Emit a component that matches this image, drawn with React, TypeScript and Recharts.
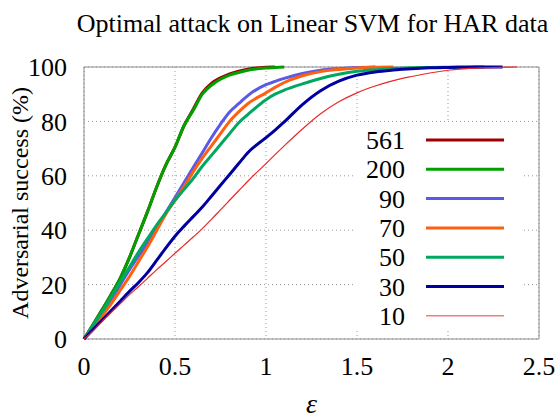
import {
  LineChart,
  Line,
  XAxis,
  YAxis,
  CartesianGrid,
  ReferenceArea,
  Label,
} from "recharts";

// epsilon grid shared by all series (null = curve already finished)
const eps = [
  0, 0.05, 0.1, 0.15, 0.2, 0.25, 0.3, 0.35, 0.4, 0.45, 0.5, 0.55, 0.6, 0.65,
  0.7, 0.75, 0.8, 0.85, 0.9, 1.0, 1.05, 1.1, 1.2, 1.3, 1.4, 1.5, 1.6, 1.7, 1.8,
  1.9, 2.0, 2.1, 2.2, 2.3, 2.38,
];

const s561 = [
  0, 5.3, 10.8, 16.5, 22.5, 30, 38.5, 47, 56, 64, 70.5, 78.5, 84.5, 90.5, 94,
  96, 97.5, 98.5, 99.2, 99.9, 100, null, null, null, null, null, null, null,
  null, null, null, null, null, null, null,
];
const s200 = [
  0, 5.3, 10.8, 16.5, 22.5, 30, 38.5, 47, 56, 64, 70.5, 78.5, 84, 90, 93.3,
  95.5, 97, 98, 98.8, 99.6, 99.8, 100, null, null, null, null, null, null, null,
  null, null, null, null, null, null,
];
const s90 = [
  0, 4.8, 9.5, 14.5, 20, 25.5, 30.5, 35.5, 41, 46.5, 52, 57.5, 63, 68.5, 74, 79,
  83.5, 86.5, 89.5, 93.5, 94.7, 95.8, 97.6, 98.8, 99.4, 99.8, 100, null, null,
  null, null, null, null, null, null,
];
const s70 = [
  0, 4, 8.5, 13, 18, 23, 28.5, 34, 40, 46, 51, 56, 61.5, 66.5, 71, 75.5, 80,
  83.5, 86.5, 90.5, 92.5, 94.3, 96.8, 98.3, 99.1, 99.6, 99.9, 100, null, null,
  null, null, null, null, null,
];
const s50 = [
  0, 5, 10, 15.5, 21, 26.5, 32, 37, 42, 46.5, 51, 55, 59, 63.5, 67.5, 71.5,
  75.5, 79.5, 82.5, 88, 90, 91.5, 93.8, 95.8, 97.3, 98.4, 99, 99.5, 99.7, 99.85,
  99.95, 99.98, 100, null, null,
];
const s30 = [
  0, 3.5, 7, 10.5, 14, 17.5, 20.8, 24.5, 29, 33.5, 37.8, 41.5, 45, 48.5, 52.5,
  56.5, 60.5, 64.5, 68.5, 74, 76.8, 79.8, 86.2, 91.3, 94.8, 97, 98.2, 98.9,
  99.4, 99.7, 99.85, 99.95, 99.98, 100, null,
];
const s10 = [
  0, 3, 6.5, 9.8, 13, 16.3, 19.3, 22.4, 25.5, 28.5, 31.5, 34.5, 37.5, 40.6,
  44, 47.5, 51, 54.5, 58, 64.5, 67.8, 71, 77.2, 82.8, 87.2, 90.5, 93, 95, 96.5,
  97.8, 98.8, 99.4, 99.7, 99.9, 100,
];

const seriesNames = ["561", "200", "90", "70", "50", "30", "10"];
const seriesValues = [s561, s200, s90, s70, s50, s30, s10];
const seriesColors = [
  "#a00000",
  "#00a000",
  "#5a5ae6",
  "#ff6010",
  "#00a860",
  "#0000a0",
  "#e82828",
];
const seriesWidths = [3, 3, 3, 3, 3, 3, 1.2];

const xTicks = [0, 0.5, 1, 1.5, 2, 2.5];
const yTicks = [0, 20, 40, 60, 80, 100];

const FONT = '"Liberation Serif", "DejaVu Serif", serif';

const rows = eps.map((e, i) => {
  const row: Record<string, number | null> = { eps: e };
  seriesNames.forEach((name, k) => {
    row["s" + name] = seriesValues[k][i];
  });
  return row;
});

function LegendBox() {
  return (
    <div
      style={{
        position: "absolute",
        left: 355,
        top: 123,
        width: 167,
        height: 207,
        background: "#fff",
      }}
    >
      <svg width={167} height={207}>
        {seriesNames.map((name, k) => {
          const y = 17 + k * 29.3;
          return (
            <g key={name}>
              <text
                x={50}
                y={y}
                dy="0.35em"
                textAnchor="end"
                fontFamily={FONT}
                fontSize={26}
                fill="#000"
              >
                {name}
              </text>
              <line
                x1={71}
                x2={149}
                y1={y}
                y2={y}
                stroke={seriesColors[k]}
                strokeWidth={k === 6 ? 1.5 : 3}
                strokeOpacity={k === 6 ? 0.6 : 1}
              />
            </g>
          );
        })}
      </svg>
    </div>
  );
}

export default function App() {
  return (
    <div style={{ position: "relative", width: 558, height: 419 }}>
      <style>{`body{margin:0}`}</style>
      <div
        style={{
          position: "absolute",
          left: 0,
          top: 11,
          width: 625,
          textAlign: "center",
          fontFamily: FONT,
          fontSize: 26,
          lineHeight: "26px",
          whiteSpace: "nowrap",
          color: "#000",
        }}
      >
        Optimal attack on Linear SVM for HAR data
      </div>
      <LineChart
        width={558}
        height={419}
        data={rows}
        margin={{ top: 67, right: 19, left: 0, bottom: 0 }}
      >
        <CartesianGrid stroke="#999" strokeDasharray="1 3" />
        <ReferenceArea
          x1={0}
          x2={2.5}
          y1={0}
          y2={100}
          fill="none"
          fillOpacity={0}
          stroke="#8a8a8a"
          strokeWidth={1}
          ifOverflow="visible"
        />
        <XAxis
          dataKey="eps"
          type="number"
          domain={[0, 2.5]}
          ticks={xTicks}
          height={80}
          axisLine={false}
          tickLine={false}
          tickSize={0}
          tickMargin={18}
          tick={{ fill: "#000", fontSize: 26, fontFamily: FONT }}
        >
          <Label
            value="ε"
            position="insideBottom"
            offset={6}
            style={{
              fill: "#000",
              fontSize: 28,
              fontFamily: FONT,
              fontStyle: "italic",
            }}
          />
        </XAxis>
        <YAxis
          type="number"
          domain={[0, 100]}
          ticks={yTicks}
          width={84}
          axisLine={false}
          tickLine={false}
          tickSize={0}
          tickMargin={17}
          tick={{ fill: "#000", fontSize: 26, fontFamily: FONT }}
        >
          <Label
            value="Adversarial success (%)"
            angle={-90}
            position="insideLeft"
            offset={19}
            style={{
              textAnchor: "middle",
              fill: "#000",
              fontSize: 24,
              fontFamily: FONT,
            }}
          />
        </YAxis>
        {seriesNames.map((name, k) => (
          <Line
            key={name}
            dataKey={"s" + name}
            type="monotone"
            stroke={seriesColors[k]}
            strokeWidth={seriesWidths[k]}
            dot={false}
            activeDot={false}
            connectNulls={false}
            isAnimationActive={false}
          />
        ))}
      </LineChart>
      <LegendBox />
    </div>
  );
}
